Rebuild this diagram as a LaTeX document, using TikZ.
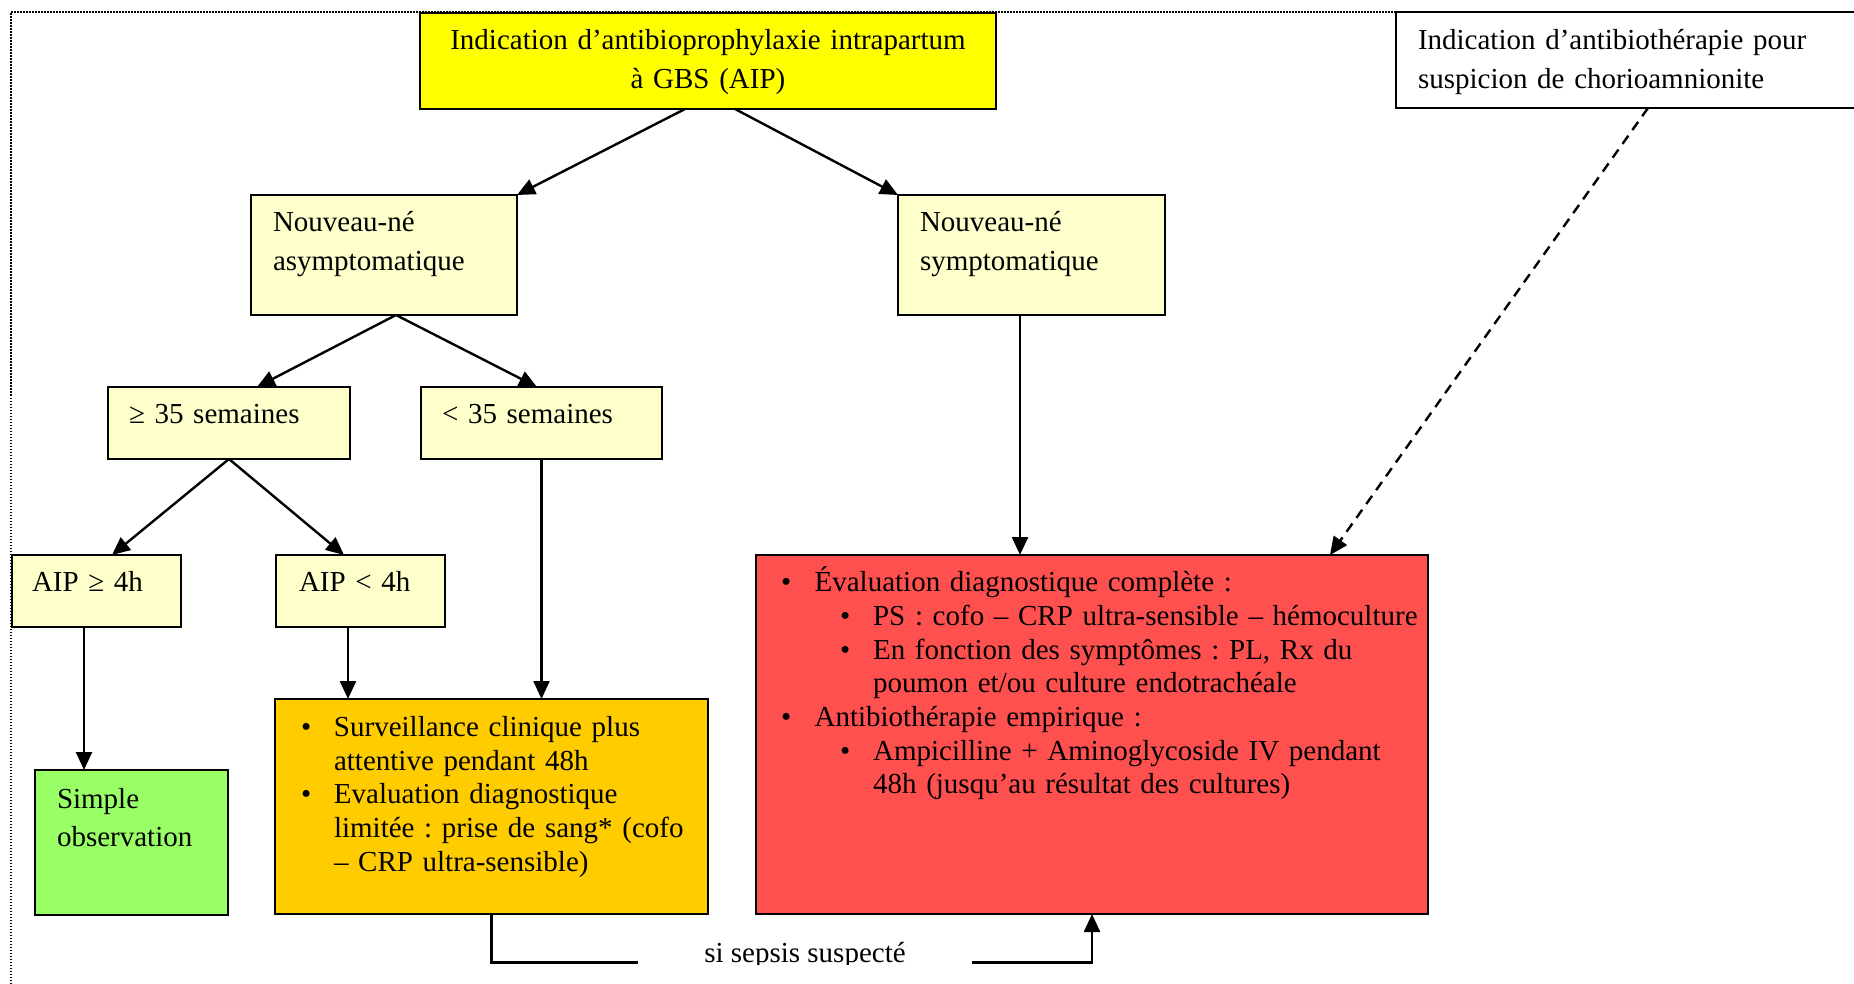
\documentclass[tikz,border=0pt]{standalone}
\usepackage{fontspec}
\setmainfont{Liberation Serif}
\usetikzlibrary{arrows.meta,calc}
\definecolor{cYel}{HTML}{FFFF00}
\definecolor{cPale}{HTML}{FFFFCC}
\definecolor{cGreen}{HTML}{99FF66}
\definecolor{cOrange}{HTML}{FFCC00}
\definecolor{cRed}{HTML}{FF5050}
\begin{document}
\frenchspacing
\begin{tikzpicture}[x=1pt,y=-1pt,
  box/.style={draw=black, line width=2pt, inner sep=0pt, outer sep=0pt, anchor=north west},
  txt/.style={inner sep=0pt, outer sep=0pt, anchor=base west, align=left, text width=900pt,
              font=\fontsize{29}{38.5}\selectfont\frenchspacing},
  listtxt/.style={txt, font=\fontsize{29}{33.7}\selectfont\frenchspacing},
  conn/.style={line width=2.4pt, line join=miter},
  arr/.style={conn, -{Triangle[length=18pt,width=16pt]}},
  dasharr/.style={arr, dash pattern=on 10pt off 7pt},
  frame/.style={line width=1.5pt, dash pattern=on 1.5pt off 1.5pt}]
\useasboundingbox (0,0) rectangle (1854,984);
\fill[white] (0,0) rectangle (1854,984);
\draw[frame] (11,984) -- (11,12) -- (1854,12);

% boxes
\node[box, fill=cYel, minimum width=576pt, minimum height=96pt] (yel) at (420,13) {};
\node[box, fill=white, minimum width=459pt, minimum height=96pt] (wtr) at (1396,12) {};
\node[box, fill=cPale, minimum width=266pt, minimum height=120pt] (asym) at (251,195) {};
\node[box, fill=cPale, minimum width=267pt, minimum height=120pt] (symp) at (898,195) {};
\node[box, fill=cPale, minimum width=242pt, minimum height=72pt] (ge35) at (108,387) {};
\node[box, fill=cPale, minimum width=241pt, minimum height=72pt] (lt35) at (421,387) {};
\node[box, fill=cPale, minimum width=169pt, minimum height=72pt] (aipge) at (12,555) {};
\node[box, fill=cPale, minimum width=169pt, minimum height=72pt] (aiplt) at (276,555) {};
\node[box, fill=cGreen, minimum width=193pt, minimum height=145pt] (green) at (35,770) {};
\node[box, fill=cOrange, minimum width=433pt, minimum height=215pt] (orng) at (275,699) {};
\node[box, fill=cRed, minimum width=672pt, minimum height=359pt] (red) at (756,555) {};

% texts
\node[txt, anchor=base, align=center, text width=560pt] (yelT) at (708,50)
  {Indication d’antibioprophylaxie intrapartum\\à GBS (AIP)};
\node[txt] (wtrT) at (1418,50) {Indication d’antibiothérapie pour\\suspicion de chorioamnionite};
\node[txt] (asymT) at (273,232) {Nouveau-né\\asymptomatique};
\node[txt] (sympT) at (920,232) {Nouveau-né\\symptomatique};
\node[txt] (ge35T) at (129,423.5) {≥ 35 semaines};
\node[txt] (lt35T) at (442,423.5) {< 35 semaines};
\node[txt] (aipgeT) at (32,591.5) {AIP ≥ 4h};
\node[txt] (aipltT) at (299,591.5) {AIP < 4h};
\node[txt] (greenT) at (57,808) {Simple\\observation};
\node[listtxt] (orngT) at (301,736.5)
  {\makebox[33pt][l]{•}Surveillance clinique plus\\
   \hspace*{33pt}attentive pendant 48h\\
   \makebox[33pt][l]{•}Evaluation diagnostique\\
   \hspace*{33pt}limitée : prise de sang* (cofo\\
   \hspace*{33pt}– CRP ultra-sensible)};
\node[listtxt] (redT) at (781,591.7)
  {\makebox[33.6pt][l]{•}Évaluation diagnostique complète :\\
   \hspace*{59.2pt}\makebox[32.9pt][l]{•}PS : cofo – CRP ultra-sensible – hémoculture\\
   \hspace*{59.2pt}\makebox[32.9pt][l]{•}En fonction des symptômes : PL, Rx du\\
   \hspace*{92.1pt}poumon et/ou culture endotrachéale\\
   \makebox[33.6pt][l]{•}Antibiothérapie empirique :\\
   \hspace*{59.2pt}\makebox[32.9pt][l]{•}Ampicilline + Aminoglycoside IV pendant\\
   \hspace*{92.1pt}48h (jusqu’au résultat des cultures)};

\begin{scope}
  \clip (600,900) rectangle (1000,964);
  \node[inner sep=0pt, outer xsep=66pt, outer ysep=0pt, anchor=base,
        font=\fontsize{29}{33.7}\selectfont] (sep) at (805,962.5) {si sepsis suspecté};
\end{scope}

% connectors
\draw[arr] ([xshift=-23pt]yel.south) -- (asym.north east);
\draw[arr] ([xshift=27pt]yel.south) -- (symp.north west);
\draw[arr] ([xshift=12pt]asym.south) -- ([xshift=28pt]ge35.north);
\draw[arr] ([xshift=12pt]asym.south) -- ([xshift=-4.5pt]lt35.north);
\draw[arr] (ge35.south) -- ([xshift=15.5pt]aipge.north);
\draw[arr] (ge35.south) -- ([xshift=-16.5pt]aiplt.north);
\draw[arr] (lt35.south) -- (lt35.south |- orng.north);
\draw[arr] ([xshift=-12.5pt]aipge.south) -- ([xshift=-12.5pt]aipge.south |- green.north);
\draw[arr] ([xshift=-12.5pt]aiplt.south) -- ([xshift=-12.5pt]aiplt.south |- orng.north);
\draw[arr] ([xshift=-11.5pt]symp.south) -- ([xshift=-11.5pt]symp.south |- red.north);
\draw[dasharr] ([xshift=22.5pt]wtr.south) -- ([xshift=238pt]red.north);
\draw[conn] (orng.south) |- (sep.base west);
\draw[arr] (sep.base east) -| (red.south);
\end{tikzpicture}
\end{document}
